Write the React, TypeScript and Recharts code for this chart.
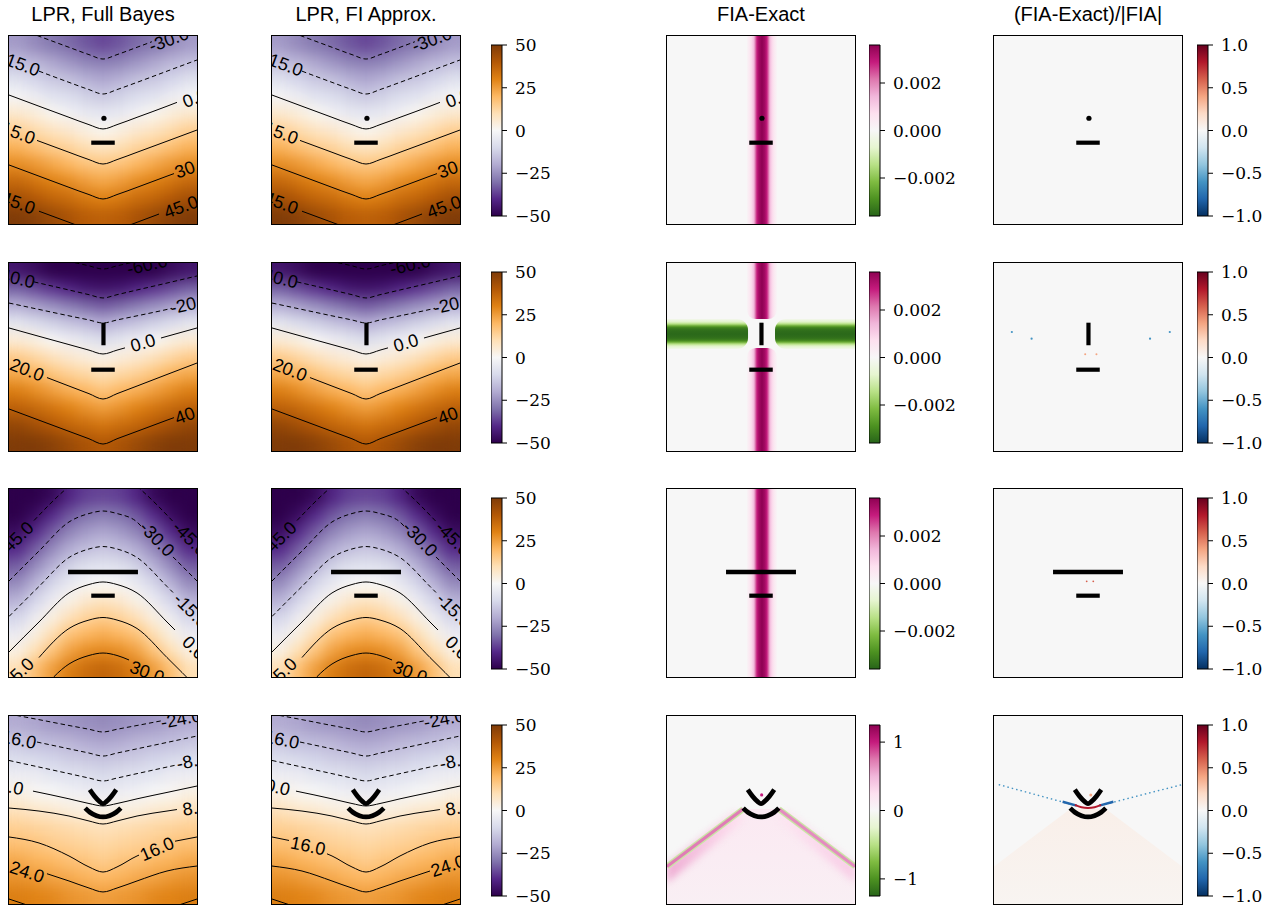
import React from 'react'
import { ComposedChart, Scatter, Line, Area, XAxis, YAxis, ReferenceArea } from 'recharts'

type P = [number, number] | null
type Contour = { level: number; pts: P[] }
type CLabel = { level: number; x: number; y: number; text: string }

const PANEL = 188
const COL_LEFT = [9, 272, 667, 994]
const ROW_TOP = [36, 263, 489, 716]
const CBAR_LEFT = [491, 869, 1197]
const CBAR_H = 171
const SANS = '"Liberation Sans", Arial, sans-serif'
const SERIF = '"DejaVu Serif", serif'

const TITLES = ['LPR, Full Bayes', 'LPR, FI Approx.', 'FIA-Exact', '(FIA-Exact)/|FIA|']

// colormaps, low -> high
const PUOR_R = ['#2d004b', '#542788', '#8073ac', '#b2abd2', '#d8daeb', '#f7f7f7', '#fee0b6', '#fdb863', '#e08214', '#b35806', '#7f3b08']
const PIYG_R = ['#276419', '#4d9221', '#7fbc41', '#b8e186', '#e6f5d0', '#f7f7f7', '#fde0ef', '#f1b6da', '#de77ae', '#c51b7d', '#8e0152']
const RDBU_R = ['#053061', '#2166ac', '#4393c3', '#92c5de', '#d1e5f0', '#f7f7f7', '#fddbc7', '#f4a582', '#d6604d', '#b2182b', '#67001f']

const LPR_TICKS = [-50, -25, 0, 25, 50]
const FIA_TICKS = [-0.002, 0, 0.002]
const FIA4_TICKS = [-1, 0, 1]
const REL_TICKS = [-1, -0.5, 0, 0.5, 1]

// LPR fields, rows top -> bottom, columns left -> right
const LPR_GRID_1 = [
  [-23, -26, -29, -31, -34, -36, -34, -31, -29, -26, -23],
  [-16, -18, -21, -24, -27, -28, -27, -24, -21, -18, -16],
  [-8, -11, -14, -16, -19, -21, -19, -16, -14, -11, -8],
  [-1, -4, -7, -9, -12, -14, -12, -9, -7, -4, -1],
  [6, 4, 1, -2, -5, -6, -5, -2, 1, 4, 6],
  [14, 11, 8, 6, 3, 1, 3, 6, 8, 11, 14],
  [21, 18, 15, 13, 10, 8, 10, 13, 15, 18, 21],
  [28, 26, 23, 20, 17, 16, 17, 20, 23, 26, 28],
  [36, 33, 30, 28, 25, 23, 25, 28, 30, 33, 36],
  [43, 40, 37, 35, 32, 30, 32, 35, 37, 40, 43],
  [50, 48, 45, 42, 39, 38, 39, 42, 45, 48, 50],
]
const LPR_GRID_2 = [
  [-45, -47, -50, -53, -55, -58, -55, -53, -50, -47, -45],
  [-32, -35, -38, -41, -44, -45, -44, -41, -38, -35, -32],
  [-19, -22, -25, -28, -31, -33, -31, -28, -25, -22, -19],
  [-6, -9, -12, -15, -17, -20, -17, -15, -12, -9, -6],
  [5, 3, 0, -3, -6, -9, -6, -3, 0, 3, 5],
  [15, 12, 9, 6, 4, 2, 4, 6, 9, 12, 15],
  [23, 21, 17, 14, 12, 10, 12, 14, 17, 21, 23],
  [31, 28, 25, 22, 20, 17, 20, 22, 25, 28, 31],
  [38, 36, 33, 30, 27, 25, 27, 30, 33, 36, 38],
  [46, 43, 40, 37, 35, 33, 35, 37, 40, 43, 46],
  [53, 51, 48, 45, 42, 40, 42, 45, 48, 51, 53],
]
const LPR_GRID_3 = [
  [-62, -55, -48, -41, -37, -36, -37, -41, -48, -55, -62],
  [-55, -47, -40, -34, -30, -28, -30, -34, -40, -47, -55],
  [-47, -40, -33, -27, -23, -21, -23, -27, -33, -40, -47],
  [-40, -33, -26, -20, -16, -14, -16, -20, -26, -33, -40],
  [-33, -26, -19, -12, -8, -7, -8, -12, -19, -26, -33],
  [-26, -19, -11, -5, -1, 0, -1, -5, -11, -19, -26],
  [-19, -11, -4, 2, 6, 8, 6, 2, -4, -11, -19],
  [-11, -4, 3, 9, 13, 15, 13, 9, 3, -4, -11],
  [-4, 3, 10, 17, 20, 22, 20, 17, 10, 3, -4],
  [3, 10, 17, 24, 28, 29, 28, 24, 17, 10, 3],
  [10, 18, 25, 31, 35, 37, 35, 31, 25, 18, 10],
]
const LPR_GRID_4 = [
  [-20, -21, -23, -24, -25, -26, -25, -24, -23, -21, -20],
  [-14, -16, -17, -18, -20, -21, -20, -18, -17, -16, -14],
  [-9, -10, -11, -13, -14, -15, -14, -13, -11, -10, -9],
  [-3, -4, -6, -7, -8, -10, -8, -7, -6, -4, -3],
  [3, 1, 0, -2, -3, -4, -3, -2, 0, 1, 3],
  [9, 7, 6, 4, 3, 2, 3, 4, 6, 7, 9],
  [14, 13, 12, 11, 10, 9, 10, 11, 12, 13, 14],
  [18, 17, 15, 14, 13, 12, 13, 14, 15, 17, 18],
  [23, 21, 20, 18, 17, 15, 17, 18, 20, 21, 23],
  [27, 26, 24, 23, 21, 20, 21, 23, 24, 26, 27],
  [31, 30, 29, 27, 26, 25, 26, 27, 29, 30, 31],
]

// contour lines (panel units, -1..1), null = gap for inline label
const CONTOURS_1: Contour[] = [
  { level: -30, pts: [[-1, 1.117], [-0.681, 0.998], [-0.362, 0.88], [-0.149, 0.802], [0, 0.755], [0.149, 0.802], [0.362, 0.88], [0.52, 0.939]] },
  { level: -15, pts: [[-0.681, 0.626], [-0.362, 0.507], [-0.149, 0.43], [0, 0.383], [0.149, 0.43], [0.362, 0.507], [0.681, 0.626], [1, 0.745]] },
  { level: 0, pts: [[-1, 0.372], [-0.681, 0.253], [-0.362, 0.135], [-0.149, 0.057], [0, 0.011], [0.149, 0.057], [0.362, 0.135], [0.681, 0.253], [0.787, 0.294]] },
  { level: 15, pts: [[-0.702, -0.111], [-0.362, -0.237], [-0.149, -0.315], [0, -0.362], [0.149, -0.315], [0.362, -0.237], [0.681, -0.119], [1, 0]] },
  { level: 30, pts: [[-1, -0.372], [-0.681, -0.491], [-0.362, -0.61], [-0.149, -0.687], [0, -0.734], [0.149, -0.687], [0.362, -0.61], [0.681, -0.491], [0.755, -0.464]] },
  { level: 45, pts: [[-0.681, -0.864], [-0.362, -0.982], [-0.149, -1.06], [0, -1.106], [0.149, -1.06], [0.362, -0.982], [0.596, -0.894]] },
]
const LABELS_1: CLabel[] = [
  { level: -30, x: 0.7, y: 0.96, text: '-30.0' },
  { level: -15, x: -0.883, y: 0.702, text: '-15.0' },
  { level: 0, x: 0.979, y: 0.34, text: '0.0' },
  { level: 15, x: -0.904, y: -0.032, text: '15.0' },
  { level: 30, x: 0.947, y: -0.394, text: '30.0' },
  { level: 45, x: -0.904, y: -0.777, text: '45.0' },
  { level: 45, x: 0.83, y: -0.819, text: '45.0' },
]

const CONTOURS_2: Contour[] = [
  { level: -60, pts: [[-1, 1.16], [-0.681, 1.088], [-0.362, 1.017], [-0.149, 0.97], [0, 0.936], [0.149, 0.97], [0.3, 1.004]] },
  { level: -40, pts: [[-0.734, 0.799], [-0.362, 0.713], [-0.149, 0.663], [0, 0.628], [0.149, 0.663], [0.362, 0.713], [0.681, 0.787], [1, 0.862]] },
  { level: -20, pts: [[-1, 0.574], [-0.681, 0.506], [-0.362, 0.438], [-0.149, 0.394], [0, 0.362], [0.149, 0.394], [0.362, 0.438], [0.681, 0.506], [0.734, 0.518]] },
  { level: 0, pts: [[-1, 0.309], [-0.681, 0.22], [-0.362, 0.132], [-0.149, 0.073], [0, 0.032], [0.149, 0.073], [0.234, 0.097], null, [0.617, 0.202], [0.681, 0.22], [1, 0.309]] },
  { level: 20, pts: [[-0.596, -0.219], [-0.362, -0.309], [-0.149, -0.39], [0, -0.447], [0.149, -0.39], [0.362, -0.309], [0.681, -0.186], [1, -0.064]] },
  { level: 40, pts: [[-1, -0.553], [-0.681, -0.672], [-0.362, -0.791], [-0.149, -0.87], [0, -0.926], [0.149, -0.87], [0.362, -0.791], [0.681, -0.672], [0.755, -0.645]] },
]
const LABELS_2: CLabel[] = [
  { level: -60, x: 0.47, y: 0.98, text: '-60.0' },
  { level: -40, x: -0.94, y: 0.84, text: '-40.0' },
  { level: -20, x: 0.931, y: 0.564, text: '-20.0' },
  { level: 0, x: 0.426, y: 0.149, text: '0.0' },
  { level: 20, x: -0.809, y: -0.138, text: '20.0' },
  { level: 40, x: 0.947, y: -0.596, text: '40.0' },
]

const CONTOURS_3: Contour[] = [
  { level: -45, pts: [[-0.734, 0.665], [-0.394, 1.0], [-0.362, 1.027], null, [0.362, 1.027], [0.394, 1.0], [0.755, 0.644]] },
  { level: -30, pts: [[-1, 0.021], [-0.681, 0.34], [-0.362, 0.649], [-0.149, 0.739], [0, 0.766], [0.149, 0.739], [0.362, 0.649], [0.404, 0.606], null, [0.745, 0.277], [1, 0.021]] },
  { level: -15, pts: [[-1, -0.356], [-0.681, -0.037], [-0.362, 0.271], [-0.149, 0.362], [0, 0.388], [0.149, 0.362], [0.362, 0.271], [0.681, -0.037], [0.745, -0.101]] },
  { level: 0, pts: [[-1, -0.734], [-0.681, -0.415], [-0.362, -0.106], [-0.149, -0.016], [0, 0.011], [0.149, -0.016], [0.362, -0.106], [0.681, -0.415], [0.766, -0.5]] },
  { level: 15, pts: [[-0.681, -0.793], [-0.362, -0.484], [-0.149, -0.394], [0, -0.367], [0.149, -0.394], [0.362, -0.484], [0.681, -0.793], [1, -1.112]] },
  { level: 30, pts: [[-0.681, -1.17], [-0.362, -0.862], [-0.149, -0.771], [0, -0.745], [0.149, -0.771], [0.277, -0.819]] },
]
const LABELS_3: CLabel[] = [
  { level: -45, x: -0.926, y: 0.468, text: '-45.0' },
  { level: -45, x: 0.926, y: 0.473, text: '-45.0' },
  { level: -30, x: 0.574, y: 0.468, text: '-30.0' },
  { level: -15, x: 0.936, y: -0.293, text: '-15.0' },
  { level: 0, x: 0.968, y: -0.69, text: '0.0' },
  { level: 15, x: -0.9, y: -0.96, text: '15.0' },
  { level: 30, x: 0.468, y: -0.95, text: '30.0' },
]

const CONTOURS_4_UPPER: Contour[] = [
  { level: -24, pts: [[-1, 1.021], [-0.681, 0.961], [-0.362, 0.899], [-0.149, 0.859], [0, 0.83], [0.149, 0.859], [0.362, 0.899], [0.617, 0.948]] },
  { level: -16, pts: [[-0.702, 0.723], [-0.362, 0.651], [-0.149, 0.606], [0, 0.574], [0.149, 0.606], [0.362, 0.651], [0.681, 0.719], [1, 0.787]] },
  { level: -8, pts: [[-1, 0.527], [-0.681, 0.457], [-0.362, 0.387], [-0.149, 0.34], [0, 0.309], [0.149, 0.34], [0.362, 0.387], [0.681, 0.457], [0.787, 0.48]] },
  { level: 0, pts: [[-0.745, 0.201], [-0.362, 0.119], [-0.149, 0.069], [0, 0.043], [0.149, 0.069], [0.362, 0.119], [0.681, 0.187], [1, 0.255]] },
  { level: 8, pts: [[-1, 0.021], [-0.681, -0.011], [-0.362, -0.064], [-0.149, -0.117], [0, -0.149], [0.149, -0.117], [0.362, -0.064], [0.681, -0.011], [0.787, 0.005]] },
  { level: 32, pts: [[-1, -0.947], [-0.78, -1.02], null, [0.78, -1.02], [1, -0.947]] },
]
const CONTOURS_4A: Contour[] = [
  ...CONTOURS_4_UPPER,
  { level: 16, pts: [[-1, -0.287], [-0.681, -0.351], [-0.362, -0.489], [-0.149, -0.606], [0, -0.66], [0.149, -0.606], [0.362, -0.489], [0.383, -0.48], null, [0.766, -0.332], [1, -0.287]] },
  { level: 24, pts: [[-0.596, -0.678], [-0.362, -0.755], [-0.149, -0.83], [0, -0.872], [0.149, -0.83], [0.362, -0.755], [0.681, -0.649], [1, -0.596]] },
]
const CONTOURS_4B: Contour[] = [
  ...CONTOURS_4_UPPER,
  { level: 16, pts: [[-1, -0.287], [-0.819, -0.324], null, [-0.415, -0.466], [-0.362, -0.489], [-0.149, -0.606], [0, -0.66], [0.149, -0.606], [0.362, -0.489], [0.681, -0.351], [1, -0.287]] },
  { level: 24, pts: [[-1, -0.596], [-0.681, -0.649], [-0.362, -0.755], [-0.149, -0.83], [0, -0.872], [0.149, -0.83], [0.362, -0.755], [0.681, -0.649]] },
]
const LABELS_4_UPPER: CLabel[] = [
  { level: -24, x: 0.83, y: 0.968, text: '-24.0' },
  { level: -16, x: -0.926, y: 0.755, text: '-16.0' },
  { level: -8, x: 0.947, y: 0.521, text: '-8.0' },
  { level: 8, x: 0.979, y: 0.021, text: '8.0' },
]
const LABELS_4A: CLabel[] = [
  ...LABELS_4_UPPER,
  { level: 0, x: -0.979, y: 0.245, text: '0.0' },
  { level: 16, x: 0.574, y: -0.415, text: '16.0' },
  { level: 24, x: -0.809, y: -0.66, text: '24.0' },
]
const LABELS_4B: CLabel[] = [
  ...LABELS_4_UPPER,
  { level: 0, x: -0.94, y: 0.24, text: '0.0' },
  { level: 16, x: -0.617, y: -0.383, text: '16.0' },
  { level: 24, x: 0.872, y: -0.596, text: '24.0' },
]

// black source / receiver marks
const MARK_DOT = [{ x: 0.01, y: 0.125 }]
const MARK_BAR = [{ x: -0.125, y: -0.135 }, { x: 0.125, y: -0.135 }]
const MARK_I = [{ x: 0.005, y: 0.365 }, { x: 0.005, y: 0.125 }]
const MARK_LONG = [{ x: -0.372, y: 0.117 }, { x: 0.372, y: 0.117 }]
const MARK_ARC_UP = [
  { x: -0.14, y: 0.216 }, { x: -0.09, y: 0.146 }, { x: -0.035, y: 0.088 }, { x: 0, y: 0.067 },
  { x: 0.035, y: 0.088 }, { x: 0.09, y: 0.146 }, { x: 0.14, y: 0.216 },
]
const MARK_ARC_LOW = [
  { x: -0.19, y: 0.02 }, { x: -0.14, y: -0.024 }, { x: -0.07, y: -0.06 }, { x: 0, y: -0.074 },
  { x: 0.07, y: -0.06 }, { x: 0.14, y: -0.024 }, { x: 0.19, y: 0.02 },
]

// FIA-Exact stripes (profile as fraction of the colour limit)
const STRIPE_OFFSETS = [0, 0.2, 0.33, 0.43, 0.53, 0.67, 0.8, 1]
const VSTRIPE_LEVELS = [1, 0.92, 0.8, 0.62, 0.38, 0.24, 0.14, 0.03]
const HSTRIPE_LEVELS = [0.98, 0.96, 0.92, 0.85, 0.7, 0.4, 0.22, 0.05]
const VSTRIPE_X = 0.01
const STRIPE_HALF = 0.16
const HSTRIPE_Y = 0.245
const R2_VSEGS = [[0.404, 1], [-1, 0.096]]
const R2_HSEGS = [[-1, -0.138], [0.149, 1]]

// row 4 diagonal fronts
const FIA4_EDGE = [{ x: -1, y: -0.6 }, { x: -0.19, y: 0.01 }, { x: 0.19, y: 0.01 }, { x: 1, y: -0.6 }]
const FIA4_LEFT = [{ x: -1, y: -0.6 }, { x: -0.19, y: 0.01 }]
const FIA4_RIGHT = [{ x: 0.19, y: 0.01 }, { x: 1, y: -0.6 }]
const FIA4_BAND_L = [{ x: -1.05, y: -0.72 }, { x: -0.23, y: -0.06 }]
const FIA4_BAND_R = [{ x: 0.23, y: -0.06 }, { x: 1.05, y: -0.72 }]
const FIA4_DOT = [{ x: 0.007, y: 0.16 }]
const REL4_BLUE_L = [{ x: -0.95, y: 0.27 }, { x: -0.14, y: 0.05 }]
const REL4_BLUE_R = [{ x: 0.14, y: 0.05 }, { x: 1, y: 0.27 }]
const REL4_BLUE_CORE_L = [{ x: -0.27, y: 0.088 }, { x: -0.12, y: 0.047 }]
const REL4_BLUE_CORE_R = [{ x: 0.12, y: 0.047 }, { x: 0.27, y: 0.088 }]
const REL4_RED_ARC = [{ x: -0.14, y: 0.055 }, { x: -0.07, y: 0.03 }, { x: 0, y: 0.022 }, { x: 0.07, y: 0.03 }, { x: 0.14, y: 0.055 }]
const REL4_DOT = [{ x: 0.03, y: 0.16 }]
const REL2_BLUE_DOTS = [{ x: -0.81, y: 0.266 }, { x: -0.6, y: 0.195 }, { x: 0.66, y: 0.195 }, { x: 0.87, y: 0.266 }]
const REL2_ORANGE_DOTS = [{ x: -0.03, y: 0.03 }, { x: 0.09, y: 0.03 }]
const REL3_RED_DOTS = [{ x: -0.014, y: 0.018 }, { x: 0.056, y: 0.018 }]

function hex(c: string) {
  return [1, 3, 5].map(i => parseInt(c.slice(i, i + 2), 16))
}
function cmap(stops: string[], t: number) {
  const u = Math.min(1, Math.max(0, t)) * (stops.length - 1)
  const i = Math.min(stops.length - 2, Math.floor(u))
  const f = u - i
  const a = hex(stops[i]), b = hex(stops[i + 1])
  return `rgb(${a.map((v, k) => Math.round(v + (b[k] - v) * f)).join(',')})`
}

function toXY(pts: P[]) {
  return pts.map((p, i) => {
    if (p) return { x: p[0], y: p[1] }
    const prev = pts[i - 1], next = pts[i + 1]
    return { x: ((prev ? prev[0] : 0) + (next ? next[0] : 0)) / 2, y: null }
  })
}

function segDist(p: number[], q: number[], x: number, y: number) {
  const dx = q[0] - p[0], dy = q[1] - p[1]
  const L = dx * dx + dy * dy || 1
  const t = Math.max(0, Math.min(1, ((x - p[0]) * dx + (y - p[1]) * dy) / L))
  return Math.hypot(p[0] + t * dx - x, p[1] + t * dy - y)
}
function labelAngle(pts: P[], x: number, y: number) {
  let best = Infinity, ang = 0
  for (let i = 0; i < pts.length - 1; i++) {
    const p = pts[i], q = pts[i + 1]
    if (!p || !q) continue
    const d = segDist(p, q, x, y)
    if (d < best) { best = d; ang = -Math.atan2(q[1] - p[1], q[0] - p[0]) * 180 / Math.PI }
  }
  if (ang > 90) ang -= 180
  if (ang < -90) ang += 180
  return ang
}

const LabelShape = (p: any) => (
  <text x={p.cx} y={p.cy} transform={`rotate(${p.payload.angle} ${p.cx} ${p.cy})`} textAnchor="middle"
    dominantBaseline="central" fontSize={18} fontFamily={SANS} fill="#000">
    {p.payload.text}
  </text>
)
const dotShape = (r: number, fill: string) => (p: any) => <circle cx={p.cx} cy={p.cy} r={r} fill={fill} />

function stripeStops(levels: number[], sign: number) {
  const out: { o: number; c: string }[] = []
  for (let i = STRIPE_OFFSETS.length - 1; i >= 0; i--) out.push({ o: 0.5 - STRIPE_OFFSETS[i] / 2, c: cmap(PIYG_R, 0.5 + sign * 0.5 * levels[i]) })
  for (let i = 1; i < STRIPE_OFFSETS.length; i++) out.push({ o: 0.5 + STRIPE_OFFSETS[i] / 2, c: cmap(PIYG_R, 0.5 + sign * 0.5 * levels[i]) })
  return out.map((s, i) => <stop key={i} offset={s.o} stopColor={s.c} />)
}

function Frame({ left, top, bg, data, children }: any) {
  return (
    <div style={{ position: 'absolute', left, top, width: PANEL, height: PANEL, background: bg || '#fff' }}>
      <ComposedChart width={PANEL} height={PANEL} data={data} margin={{ top: 0, right: 0, bottom: 0, left: 0 }}>
        <XAxis type="number" dataKey="x" domain={[-1, 1]} hide allowDataOverflow />
        <YAxis type="number" dataKey="y" domain={[-1, 1]} hide allowDataOverflow />
        {children}
      </ComposedChart>
      <div style={{ position: 'absolute', left: -1, top: -1, width: PANEL, height: PANEL, border: '1px solid #000', pointerEvents: 'none' }} />
    </div>
  )
}

function plainLine(key: string, data: any[], stroke: string, w: number, z: number, extra: any = {}) {
  return (
    <Line key={key} data={data} dataKey="y" stroke={stroke} strokeWidth={w} dot={false} activeDot={false}
      isAnimationActive={false} zIndex={z} {...extra} />
  )
}
function markLine(key: string, data: any[], w: number, curved = false) {
  return plainLine(key, data, '#000', w, 450, { type: curved ? 'monotone' : 'linear' })
}
function marks(row: number) {
  if (row === 0) return [
    markLine('bar', MARK_BAR, 4.2),
    <Scatter key="dot" data={MARK_DOT} dataKey="y" shape={dotShape(2.6, '#000')} isAnimationActive={false} zIndex={650} />,
  ]
  if (row === 1) return [markLine('i', MARK_I, 4.2), markLine('bar', MARK_BAR, 4.2)]
  if (row === 2) return [markLine('long', MARK_LONG, 4.4), markLine('bar', MARK_BAR, 4.2)]
  return [markLine('up', MARK_ARC_UP, 4.8, true), markLine('low', MARK_ARC_LOW, 4.8, true)]
}

function LprPanel({ left, top, grid, contours, labels, row }: any) {
  const nr = grid.length, nc = grid[0].length
  const cells = grid.flatMap((line: number[], r: number) =>
    line.map((v, c) => ({ x: -1 + (2 * c + 1) / nc, y: 1 - (2 * r + 1) / nr, v })))
  const cw = PANEL / nc, ch = PANEL / nr
  const labelData = labels.map((l: CLabel) => ({
    ...l, angle: labelAngle((contours as Contour[]).find(c => c.level === l.level)!.pts, l.x, l.y),
  }))
  return (
    <Frame left={left} top={top}>
      <Scatter key="heat" data={cells} dataKey="y" className="heat" isAnimationActive={false} zIndex={100}
        shape={(p: any) => (
          <rect x={p.cx - cw / 2} y={p.cy - ch / 2} width={cw} height={ch} fill={cmap(PUOR_R, (p.payload.v + 50) / 100)} />
        )} />
      {(contours as Contour[]).map((c, i) => (
        <Line key={'c' + i} data={toXY(c.pts)} dataKey="y" type="monotone" stroke="#000" strokeWidth={1}
          strokeDasharray={c.level < 0 ? '4.5 3' : undefined} dot={false} activeDot={false}
          isAnimationActive={false} zIndex={400} />
      ))}
      {marks(row)}
      <Scatter key="labels" data={labelData} dataKey="y" shape={LabelShape} isAnimationActive={false} zIndex={600} />
    </Frame>
  )
}

function vStripe(key: string, y1: number, y2: number, radius?: number[]) {
  return (
    <ReferenceArea key={key} x1={VSTRIPE_X - STRIPE_HALF} x2={VSTRIPE_X + STRIPE_HALF} y1={y1} y2={y2}
      fill="url(#vstripe)" fillOpacity={1} stroke="none" radius={radius} zIndex={150} />
  )
}
function hStripe(key: string, x1: number, x2: number, radius?: number[]) {
  return (
    <ReferenceArea key={key} x1={x1} x2={x2} y1={HSTRIPE_Y - STRIPE_HALF} y2={HSTRIPE_Y + STRIPE_HALF}
      fill="url(#hstripe)" fillOpacity={1} stroke="none" radius={radius} zIndex={150} />
  )
}

function FiaPanel({ left, top, row }: any) {
  let extra: any[] = []
  if (row === 0 || row === 2) extra = [vStripe('v', -1, 1)]
  if (row === 1) extra = [
    vStripe('vt', R2_VSEGS[0][0], R2_VSEGS[0][1], [0, 0, 9, 9]),
    vStripe('vb', R2_VSEGS[1][0], R2_VSEGS[1][1], [9, 9, 0, 0]),
    hStripe('hl', R2_HSEGS[0][0], R2_HSEGS[0][1], [0, 11, 11, 0]),
    hStripe('hr', R2_HSEGS[1][0], R2_HSEGS[1][1], [11, 0, 0, 11]),
  ]
  if (row === 3) extra = [
    <Area key="a" dataKey="y" type="linear" baseValue={-1} fill="url(#fia4fill)" fillOpacity={1} stroke="none" isAnimationActive={false} zIndex={100} />,
    plainLine('bl', FIA4_BAND_L, 'url(#bandL)', 14, 120, { className: 'soft' }),
    plainLine('br', FIA4_BAND_R, 'url(#bandR)', 14, 120, { className: 'soft' }),
    plainLine('gl', FIA4_LEFT, '#c9e6a4', 6, 300),
    plainLine('gr', FIA4_RIGHT, '#c9e6a4', 6, 300),
    plainLine('pl', FIA4_LEFT, '#e07cb6', 3.2, 400),
    plainLine('pr', FIA4_RIGHT, '#e48cc0', 3.2, 400),
    <Scatter key="d" data={FIA4_DOT} dataKey="y" shape={dotShape(1.6, '#c51b7d')} isAnimationActive={false} zIndex={600} />,
  ]
  return (
    <Frame left={left} top={top} bg="#f7f7f7" data={row === 3 ? FIA4_EDGE : undefined}>
      {extra}
      {marks(row)}
    </Frame>
  )
}

function RelPanel({ left, top, row }: any) {
  let extra: any[] = []
  if (row === 1) extra = [
    <Scatter key="b" data={REL2_BLUE_DOTS} dataKey="y" shape={dotShape(1.1, '#4393c3')} isAnimationActive={false} zIndex={600} />,
    <Scatter key="o" data={REL2_ORANGE_DOTS} dataKey="y" shape={dotShape(1, '#f4a582')} isAnimationActive={false} zIndex={600} />,
  ]
  if (row === 2) extra = [
    <Scatter key="r" data={REL3_RED_DOTS} dataKey="y" shape={dotShape(0.9, '#d6604d')} isAnimationActive={false} zIndex={600} />,
  ]
  if (row === 3) extra = [
    <Area key="a" dataKey="y" type="linear" baseValue={-1} fill="url(#rel4fill)" fillOpacity={1} stroke="none" isAnimationActive={false} zIndex={100} />,
    plainLine('bl', REL4_BLUE_L, '#4393c3', 1.4, 400, { strokeDasharray: '1.5 3' }),
    plainLine('br', REL4_BLUE_R, '#4393c3', 1.4, 400, { strokeDasharray: '1.5 3' }),
    plainLine('cl', REL4_BLUE_CORE_L, '#2166ac', 2.4, 410),
    plainLine('cr', REL4_BLUE_CORE_R, '#2166ac', 2.4, 410),
    plainLine('ra', REL4_RED_ARC, '#b2182b', 2, 420, { type: 'monotone' }),
    <Scatter key="d" data={REL4_DOT} dataKey="y" shape={dotShape(1.5, '#f4a582')} isAnimationActive={false} zIndex={600} />,
  ]
  return (
    <Frame left={left} top={top} bg="#f7f7f7" data={row === 3 ? FIA4_EDGE : undefined}>
      {extra}
      {marks(row)}
    </Frame>
  )
}

const minus = (s: string) => s.replace('-', '\u2212')
const fmtInt = (v: number) => minus(String(Math.round(v)))
const fmt3 = (v: number) => minus(v.toFixed(3))
const fmt1 = (v: number) => minus(v.toFixed(1))

function Colorbar({ left, top, min, max, ticks, grad, fmt }: any) {
  return (
    <div style={{ position: 'absolute', left, top: top - 10 }}>
      <ComposedChart width={100} height={CBAR_H + 20} data={[{ x: 0, y: min }, { x: 1, y: max }]}
        margin={{ top: 10, right: 0, bottom: 10, left: 0 }}>
        <XAxis type="number" dataKey="x" domain={[0, 1]} hide />
        <YAxis type="number" dataKey="y" orientation="right" domain={[min, max]} ticks={ticks} interval={0} width={89}
          tickFormatter={fmt} tick={{ fill: '#000', fontSize: 17, fontFamily: SERIF }}
          tickLine={{ stroke: '#000', strokeWidth: 1 }} tickSize={5} tickMargin={8} axisLine={false} />
        <ReferenceArea x1={0} x2={1} y1={min} y2={max} fill={`url(#${grad})`} fillOpacity={1} stroke="#000" strokeWidth={1} />
      </ComposedChart>
    </div>
  )
}

const LPR_ROWS = [
  { grid: LPR_GRID_1, c1: CONTOURS_1, l1: LABELS_1, c2: CONTOURS_1, l2: LABELS_1 },
  { grid: LPR_GRID_2, c1: CONTOURS_2, l1: LABELS_2, c2: CONTOURS_2, l2: LABELS_2 },
  { grid: LPR_GRID_3, c1: CONTOURS_3, l1: LABELS_3, c2: CONTOURS_3, l2: LABELS_3 },
  { grid: LPR_GRID_4, c1: CONTOURS_4A, l1: LABELS_4A, c2: CONTOURS_4B, l2: LABELS_4B },
]

function gradStops(stops: string[]) {
  return stops.map((c, i) => <stop key={i} offset={i / (stops.length - 1)} stopColor={c} />)
}

export default function App() {
  return (
    <div style={{ position: 'absolute', left: 0, top: 0, width: 1284, height: 908, background: '#fff', overflow: 'hidden' }}>
      <style>{`.heat { filter: url(#heatSmooth); } .soft { filter: url(#softBlur); }`}</style>
      <svg width={0} height={0} style={{ position: 'absolute' }}>
        <defs>
          <filter id="heatSmooth" x="0" y="0" width="1" height="1" colorInterpolationFilters="sRGB">
            <feGaussianBlur stdDeviation={7} />
            <feComponentTransfer><feFuncA type="table" tableValues="1 1" /></feComponentTransfer>
          </filter>
          <filter id="softBlur" x="-0.2" y="-0.2" width="1.4" height="1.4" colorInterpolationFilters="sRGB">
            <feGaussianBlur stdDeviation={3.5} />
          </filter>
          <linearGradient id="cbPuor" x1="0" y1="1" x2="0" y2="0">{gradStops(PUOR_R)}</linearGradient>
          <linearGradient id="cbPiyg" x1="0" y1="1" x2="0" y2="0">{gradStops(PIYG_R)}</linearGradient>
          <linearGradient id="cbRdbu" x1="0" y1="1" x2="0" y2="0">{gradStops(RDBU_R)}</linearGradient>
          <linearGradient id="vstripe" x1="0" y1="0" x2="1" y2="0">{stripeStops(VSTRIPE_LEVELS, 1)}</linearGradient>
          <linearGradient id="hstripe" x1="0" y1="0" x2="0" y2="1">{stripeStops(HSTRIPE_LEVELS, -1)}</linearGradient>
          <linearGradient id="fia4fill" x1="0" y1="0" x2="0" y2="1">
            <stop offset={0} stopColor={cmap(PIYG_R, 0.56)} />
            <stop offset={1} stopColor={cmap(PIYG_R, 0.535)} />
          </linearGradient>
          <linearGradient id="bandL" x1="0" y1="0" x2="1" y2="0">
            <stop offset={0} stopColor={cmap(PIYG_R, 0.72)} />
            <stop offset={1} stopColor={cmap(PIYG_R, 0.6)} />
          </linearGradient>
          <linearGradient id="bandR" x1="0" y1="0" x2="1" y2="0">
            <stop offset={0} stopColor={cmap(PIYG_R, 0.58)} />
            <stop offset={1} stopColor={cmap(PIYG_R, 0.65)} />
          </linearGradient>
          <linearGradient id="rel4fill" x1="0" y1="0" x2="0" y2="1">
            <stop offset={0} stopColor={cmap(RDBU_R, 0.53)} />
            <stop offset={1} stopColor={cmap(RDBU_R, 0.512)} />
          </linearGradient>
        </defs>
      </svg>

      {TITLES.map((t, i) => (
        <div key={t} style={{
          position: 'absolute', left: COL_LEFT[i] + PANEL / 2 - 150, top: 2, width: 300, textAlign: 'center',
          fontFamily: SANS, fontSize: 20, color: '#000', lineHeight: '24px',
        }}>{t}</div>
      ))}

      {LPR_ROWS.map((r, i) => (
        <React.Fragment key={'row' + i}>
          <LprPanel left={COL_LEFT[0]} top={ROW_TOP[i]} grid={r.grid} contours={r.c1} labels={r.l1} row={i} />
          <LprPanel left={COL_LEFT[1]} top={ROW_TOP[i]} grid={r.grid} contours={r.c2} labels={r.l2} row={i} />
          <Colorbar left={CBAR_LEFT[0]} top={ROW_TOP[i] + 9} min={-50} max={50} ticks={LPR_TICKS} grad="cbPuor" fmt={fmtInt} />
          <FiaPanel left={COL_LEFT[2]} top={ROW_TOP[i]} row={i} />
          {i < 3
            ? <Colorbar left={CBAR_LEFT[1]} top={ROW_TOP[i] + 9} min={-0.0036} max={0.0036} ticks={FIA_TICKS} grad="cbPiyg" fmt={fmt3} />
            : <Colorbar left={CBAR_LEFT[1]} top={ROW_TOP[i] + 9} min={-1.25} max={1.25} ticks={FIA4_TICKS} grad="cbPiyg" fmt={fmtInt} />}
          <RelPanel left={COL_LEFT[3]} top={ROW_TOP[i]} row={i} />
          <Colorbar left={CBAR_LEFT[2]} top={ROW_TOP[i] + 9} min={-1} max={1} ticks={REL_TICKS} grad="cbRdbu" fmt={fmt1} />
        </React.Fragment>
      ))}
    </div>
  )
}
